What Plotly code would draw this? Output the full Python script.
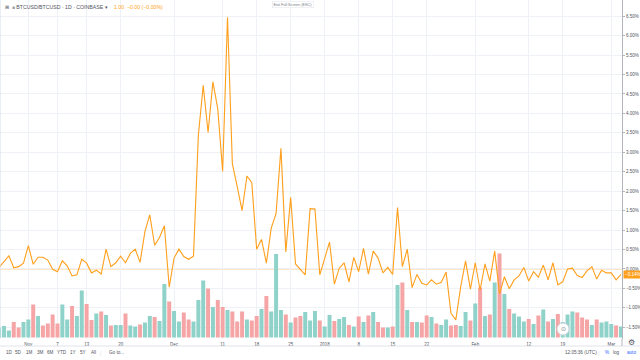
import pandas as pd
import plotly.graph_objects as go

# ---------------- data ----------------
start_date = "2017-10-26"
price_pct = [
    0.04, 0.18, 0.34, 0.03, 0.06, 0.15,
    0.60, 0.12, 0.30, 0.30, 0.23, -0.01, -0.07, 0.21, 0.08, -0.18,
    -0.15, 0.25, 0.15, -0.10, -0.03, -0.13, 0.51, 0.06, 0.16, 0.33,
    0.16, 0.40, 0.51, 0.17, 0.96, 1.39, 0.61, 0.81, 1.11, -0.47,
    0.28, 0.51, 0.32, 0.25, 0.33, 3.44, 4.72, 3.51, 4.81, 4.11,
    2.51, 6.47, 2.70, 2.12, 1.50, 2.39, 2.22, 0.51, 0.76, 0.15,
    1.05, 1.43, 3.10, 0.44, 1.84, 0.13, 0.00, -0.15, 1.55, 1.54,
    -0.15,
    0.25, 0.69, -0.39, 0.02, 0.16, -0.33, 0.30, -0.07, 0.53, -0.13,
    0.46, 0.28, -0.10, 0.04, -0.14, 1.58, 0.06, 0.51, -0.48, -0.14,
    -0.37, -0.41, -0.28, -0.39, -0.34, -0.08, -1.14, -1.31, -0.46, 0.21,
    -0.52,
    0.16, -0.54, 0.13, -0.31, 0.46, -0.64, -0.20, -0.51, -0.28, -0.18,
    0.04, -0.31, -0.07, -0.21, 0.10, -0.28, 0.16, -0.41, -0.33, 0.00,
    0.02, -0.17, -0.22, -0.05, 0.06, -0.26, -0.03, -0.10,
    -0.10, -0.28, -0.14,
]
volume = [
    10, 11.5, 7, 15.5, 10, 15.5,
    18, 33, 21.5, 12, 14, 23, 14, 33, 18, 31.5,
    21.5, 47, 33.5, 17.5, 24, 26, 22.5, 12, 12.5, 12.5,
    24, 12, 11, 13, 15, 21.5, 20.5, 16.5, 53.5, 36,
    26.5, 16, 25, 18, 16, 37.5, 57, 49, 30.5, 37.5,
    30.5, 27.5, 26, 16, 26, 18, 17, 21.5, 28.5, 41.5,
    26, 83.5, 27.5, 23, 15, 20, 21.5, 25.5, 17, 26.5,
    17,
    11, 22.5, 16.5, 18.5, 20.5, 12.5, 11, 21, 15.5, 22,
    25.5, 15.5, 10, 10, 11, 52.5, 55, 27.5, 15.5, 15.5,
    15, 22, 20.5, 14, 12.5, 18, 12, 12.5, 11.5, 25.5,
    17,
    34, 50, 21.5, 23, 55, 84, 43.5, 28.5, 24, 21,
    16, 18.5, 13.5, 22, 28, 16, 18.5, 23.5, 15.5, 23,
    26, 25, 20, 18, 12.5, 18, 15, 16,
    13.5, 12, 11,
]
volume_dir = [
    "u", "u", "u", "d", "d", "u",
    "u", "d", "u", "d", "d", "d", "d", "u", "u", "d",
    "u", "u", "d", "d", "u", "d", "u", "d", "u", "u",
    "d", "u", "u", "d", "u", "u", "d", "u", "u", "d",
    "u", "u", "d", "d", "u", "u", "u", "d", "u", "d",
    "d", "u", "d", "d", "d", "u", "d", "d", "u", "d",
    "u", "u", "u", "d", "u", "d", "d", "u", "u", "u",
    "d",
    "u", "u", "d", "u", "u", "d", "u", "d", "u", "d",
    "u", "d", "d", "u", "d", "u", "d", "u", "d", "u",
    "d", "d", "u", "d", "u", "u", "d", "d", "u", "u",
    "d",
    "u", "d", "u", "d", "u", "d", "u", "d", "u", "u",
    "u", "d", "u", "d", "u", "d", "u", "d", "u", "u",
    "u", "d", "d", "d", "u", "d", "u", "u",
    "u", "d", "u",
]
tick_dates = ["2017-11-01", "2017-11-07", "2017-11-13", "2017-11-20", "2017-12-01",
              "2017-12-11", "2017-12-18", "2017-12-25", "2018-01-01", "2018-01-08",
              "2018-01-15", "2018-01-22", "2018-02-01", "2018-02-12", "2018-02-19",
              "2018-03-01"]
tick_labels = ["Nov", "7", "13", "20", "Dec", "11", "18", "25", "2018", "8", "15",
               "22", "Feb", "12", "19", "Mar"]
price_ticks = [-1.5, -1.0, -0.5, 0.0, 0.5, 1.0, 1.5, 2.0, 2.5, 3.0, 3.5, 4.0,
               4.5, 5.0, 5.5, 6.0, 6.5]
last_value = -0.14
range_buttons = ["1D", "5D", "1M", "3M", "6M", "YTD", "1Y", "5Y", "All"]

# ---------------- figure ----------------
dates = pd.date_range(start_date, periods=len(price_pct), freq="D")
UP, DOWN = "#8FD2C9", "#F6A5A6"
ORANGE = "#FF9F1C"
FONT = "Liberation Sans, Arial, sans-serif"

def pct(v):
    return ("\u2212" if v < 0 else "") + f"{abs(v):.2f}%"

fig = go.Figure()
fig.add_trace(go.Bar(
    x=dates, y=volume, yaxis="y",
    marker=dict(color=[UP if d == "u" else DOWN for d in volume_dir], line=dict(width=0)),
    hoverinfo="skip", showlegend=False,
))
fig.add_trace(go.Scatter(
    x=dates, y=price_pct, yaxis="y2", mode="lines",
    line=dict(color=ORANGE, width=1.1), showlegend=False,
))

PW = 622.0   # plot width px
PH = 339.0   # plot height px

def px(x):
    return x / PW

def py(y):
    return (PH - y) / PH

def label(text, x, y, size=5, color="#50535E", anchor="center", **kw):
    return dict(text=text, x=px(x), y=py(y), xref="paper", yref="paper",
                xanchor=anchor, yanchor="middle", showarrow=False,
                font=dict(size=size, color=color), **kw)

btn_x = [9.3, 18.3, 29, 40, 50.7, 61.7, 72.7, 82.7, 93.3]

annotations = [
    label("\u229e  \u2261 BTCUSD/BTCUSD \u00b7 1D \u00b7 COINBASE \u25be", 3, 7, size=5.2, anchor="left"),
    label("1.00  \u22120.00 (\u22120.00%)", 112, 7, size=5.2, color=ORANGE, anchor="left"),
    label("Exit Full Screen (ESC)", 293, 4, size=3.8, color="#787B86",
          bgcolor="white", bordercolor="#E0E3EB", borderwidth=0.5, borderpad=1),
    dict(text=pct(last_value), x=1, y=last_value, xref="paper", yref="y2",
         xanchor="left", yanchor="middle", xshift=1, showarrow=False,
         font=dict(size=4.5, color="white"), bgcolor=ORANGE, borderpad=1),
]
annotations += [label(t, x, 352.5, size=4.6) for t, x in zip(range_buttons, btn_x)]
annotations += [
    label("|", 101, 352.5, size=6, color="#E0E3EB"),
    label("Go to...", 107, 352.5, size=4.6, anchor="left"),
    label("12:05:36 (UTC)", 563, 352.5, size=4.6, anchor="left"),
    label("|", 599, 352.5, size=6, color="#E0E3EB"),
    label("%", 607, 352.5, size=4.6, color="#2962FF"),
    label("log", 616, 352.5, size=4.6),
    label("auto", 631, 352.5, size=4.6, color="#2962FF"),
    label("\u2699", 631, 342, size=8),
    label("\u2299", 563, 329, size=6, color="#787B86"),
]

fig.update_layout(
    width=640, height=360,
    margin=dict(l=0, r=18, t=0, b=21),
    paper_bgcolor="white", plot_bgcolor="white",
    font=dict(family=FONT, size=5, color="#50535E"),
    bargap=0.18,
    xaxis=dict(
        type="date", range=["2017-10-26 04:00", "2018-03-03 05:00"],
        tickvals=tick_dates, ticktext=tick_labels,
        showgrid=True, gridcolor="#EEF1F6", gridwidth=1,
        zeroline=False, showline=False, ticks="",
        tickfont=dict(size=4.5, color="#50535E"), ticklabelstandoff=1,
    ),
    yaxis=dict(range=[-1.5, 337.5], visible=False, showgrid=False, fixedrange=True),
    yaxis2=dict(
        overlaying="y", side="right", range=[-1.80, 6.915],
        tickvals=price_ticks, ticktext=[pct(v) for v in price_ticks],
        showgrid=True, gridcolor="#EEF1F6", gridwidth=1, zeroline=False,
        showline=True, linecolor="#B2B5BE", linewidth=1,
        ticks="outside", ticklen=2, tickcolor="#B2B5BE",
        tickfont=dict(size=4.5, color="#50535E"),
    ),
    shapes=[
        dict(type="line", xref="paper", yref="y2", x0=0, x1=1, y0=0, y1=0,
             line=dict(color="rgba(255,160,40,0.55)", width=1), layer="below"),
        dict(type="line", xref="paper", yref="paper", x0=0, x1=px(640), y0=py(346), y1=py(346),
             line=dict(color="#E0E3EB", width=1)),
        dict(type="line", xref="paper", yref="paper", x0=1, x1=1, y0=py(339), y1=py(346),
             line=dict(color="#B2B5BE", width=1)),
        dict(type="line", xref="paper", yref="paper", x0=0, x1=0, y0=0, y1=1,
             line=dict(color="#D6E0F0", width=1)),
        dict(type="circle", xref="paper", yref="paper",
             x0=px(557), x1=px(569), y0=py(335), y1=py(323),
             fillcolor="white", line=dict(color="#D1D4DC", width=1)),
    ],
    annotations=annotations,
)

fig.write_html(
    "out.html",
    config={"displayModeBar": False},
    post_script="document.body.style.margin='0';document.body.style.padding='0';",
)
